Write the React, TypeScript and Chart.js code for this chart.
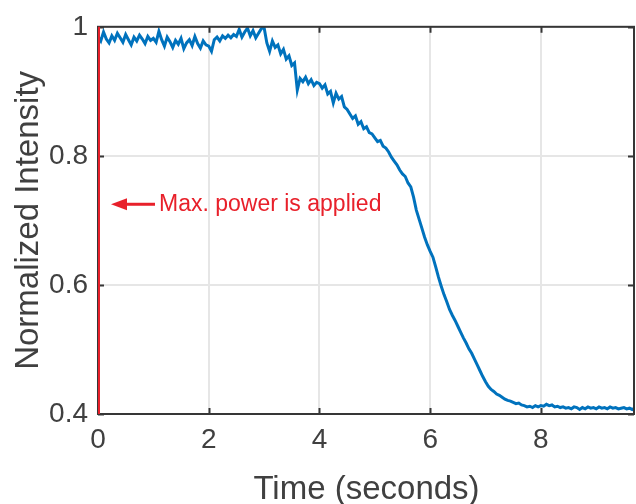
import React, { useEffect, useRef } from "react";
import { Chart, registerables } from "chart.js";

Chart.register(...registerables);

// Sampling step of the recorded trace (seconds)
const SAMPLE_STEP = 0.05;

// Normalized intensity readings, one per sample (0 s .. 9.7 s)
const INTENSITY_0_1 = [0.985, 0.978, 0.992, 0.981, 0.975, 0.986, 0.979, 0.99, 0.983, 0.976, 0.988, 0.98, 0.972, 0.984, 0.978, 0.987, 0.981, 0.974, 0.985, 0.979];
const INTENSITY_1_2 = [0.982, 0.976, 0.993, 0.98, 0.97, 0.984, 0.977, 0.968, 0.979, 0.973, 0.982, 0.966, 0.975, 0.98, 0.971, 0.985, 0.974, 0.967, 0.978, 0.972];
const INTENSITY_2_3 = [0.97, 0.962, 0.98, 0.984, 0.978, 0.986, 0.982, 0.987, 0.983, 0.988, 0.985, 0.996, 0.984, 0.992, 0.998, 0.986, 0.994, 0.983, 0.99, 0.997];
const INTENSITY_3_4 = [0.999, 0.975, 0.962, 0.978, 0.968, 0.972, 0.958, 0.965, 0.95, 0.955, 0.94, 0.944, 0.902, 0.92, 0.915, 0.922, 0.912, 0.918, 0.909, 0.914];
const INTENSITY_4_5 = [0.912, 0.905, 0.91, 0.896, 0.9, 0.882, 0.897, 0.888, 0.892, 0.876, 0.872, 0.865, 0.858, 0.862, 0.849, 0.853, 0.842, 0.845, 0.836, 0.834];
const INTENSITY_5_6 = [0.828, 0.822, 0.824, 0.815, 0.812, 0.806, 0.798, 0.792, 0.786, 0.778, 0.772, 0.768, 0.758, 0.752, 0.736, 0.716, 0.702, 0.688, 0.674, 0.662];
const INTENSITY_6_7 = [0.652, 0.643, 0.628, 0.612, 0.598, 0.585, 0.574, 0.562, 0.553, 0.545, 0.536, 0.527, 0.518, 0.51, 0.501, 0.494, 0.485, 0.476, 0.467, 0.458];
const INTENSITY_7_8 = [0.45, 0.443, 0.438, 0.435, 0.431, 0.429, 0.426, 0.423, 0.421, 0.42, 0.418, 0.416, 0.417, 0.414, 0.413, 0.411, 0.412, 0.41, 0.413, 0.411];
const INTENSITY_8_9 = [0.413, 0.412, 0.415, 0.413, 0.414, 0.411, 0.412, 0.41, 0.411, 0.409, 0.41, 0.408, 0.411, 0.41, 0.407, 0.41, 0.408, 0.411, 0.409, 0.41];
const INTENSITY_9_END = [0.408, 0.411, 0.409, 0.41, 0.408, 0.411, 0.409, 0.41, 0.408, 0.409, 0.41, 0.408, 0.409, 0.407, 0.409];

const INTENSITY = [
  ...INTENSITY_0_1, ...INTENSITY_1_2, ...INTENSITY_2_3, ...INTENSITY_3_4, ...INTENSITY_4_5,
  ...INTENSITY_5_6, ...INTENSITY_6_7, ...INTENSITY_7_8, ...INTENSITY_8_9, ...INTENSITY_9_END,
];
const TIME = INTENSITY.map((_, i) => +(i * SAMPLE_STEP).toFixed(2));

// Axes
const X_MIN = 0;
const X_MAX = 9.7;
const X_STEP = 2;
const Y_MIN = 0.4;
const Y_MAX = 1;
const Y_STEP = 0.2;

// Texts
const X_TITLE = "Time (seconds)";
const Y_TITLE = "Normalized Intensity";
const EVENT_TIME = 0;
const EVENT_LABEL = "Max. power is applied";
const EVENT_LABEL_Y = 0.725;

const TEXT = "#404040";
const AXIS = "#363636";
const GRID = "#e6e6e6";
const RED = "#e8202a";
const BLUE = "#0072bd";
const FONT = "'Liberation Sans', Arial, Helvetica, sans-serif";

const overlay = {
  id: "overlay",
  afterDraw(chart: any) {
    const { ctx, chartArea: a, scales } = chart;
    const xs = scales.x;
    const ys = scales.y;
    ctx.save();
    // box
    ctx.strokeStyle = AXIS;
    ctx.lineWidth = 2;
    ctx.strokeRect(a.left, a.top, a.right - a.left - 1, a.bottom - a.top);
    // inward ticks
    const tl = 6;
    ctx.beginPath();
    xs.ticks.forEach((t: any) => {
      const px = Math.round(xs.getPixelForValue(t.value)) + 0.5;
      ctx.moveTo(px, a.bottom);
      ctx.lineTo(px, a.bottom - tl);
      ctx.moveTo(px, a.top);
      ctx.lineTo(px, a.top + tl);
    });
    ys.ticks.forEach((t: any) => {
      const py = Math.round(ys.getPixelForValue(t.value)) + 0.5;
      ctx.moveTo(a.left, py);
      ctx.lineTo(a.left + tl, py);
      ctx.moveTo(a.right - 1, py);
      ctx.lineTo(a.right - 1 - tl, py);
    });
    ctx.stroke();
    // event marker line
    const ex = xs.getPixelForValue(EVENT_TIME) + 1;
    ctx.strokeStyle = RED;
    ctx.lineWidth = 2;
    ctx.beginPath();
    ctx.moveTo(ex, a.top);
    ctx.lineTo(ex, a.bottom);
    ctx.stroke();
    // arrow + label
    const ay = ys.getPixelForValue(EVENT_LABEL_Y);
    const tipX = ex + 12;
    ctx.fillStyle = RED;
    ctx.beginPath();
    ctx.moveTo(tipX + 14, ay);
    ctx.lineTo(ex + 56, ay);
    ctx.lineWidth = 3;
    ctx.stroke();
    ctx.beginPath();
    ctx.moveTo(tipX, ay);
    ctx.lineTo(tipX + 16, ay - 6);
    ctx.lineTo(tipX + 16, ay + 6);
    ctx.closePath();
    ctx.fill();
    ctx.font = `23px ${FONT}`;
    ctx.textAlign = "left";
    ctx.textBaseline = "middle";
    ctx.fillText(EVENT_LABEL, ex + 60, ay);
    ctx.restore();
  },
};

export default function App() {
  const ref = useRef<HTMLCanvasElement>(null);
  useEffect(() => {
    document.body.style.margin = "0";
    const chart = new Chart(ref.current as HTMLCanvasElement, {
      type: "line",
      data: {
        datasets: [
          {
            data: TIME.map((t, i) => ({ x: t, y: INTENSITY[i] })),
            borderColor: BLUE,
            borderWidth: 3,
            pointRadius: 0,
            tension: 0,
            fill: false,
          },
        ],
      },
      options: {
        responsive: false,
        animation: false,
        layout: { padding: { top: 20, right: 1, left: 0, bottom: 0 } },
        plugins: { legend: { display: false }, tooltip: { enabled: false } },
        scales: {
          x: {
            type: "linear",
            min: X_MIN,
            max: X_MAX,
            border: { display: false },
            grid: { color: GRID, lineWidth: 2, drawTicks: false },
            ticks: {
              stepSize: X_STEP,
              includeBounds: false,
              padding: 9,
              color: TEXT,
              font: { family: FONT, size: 28 },
              maxRotation: 0,
            },
            title: {
              display: true,
              text: X_TITLE,
              color: TEXT,
              font: { family: FONT, size: 33, lineHeight: 1 },
              padding: { top: 0, bottom: -2 },
            },
            afterFit: (s: any) => {
              s.height = 90;
            },
          },
          y: {
            type: "linear",
            min: Y_MIN,
            max: Y_MAX,
            border: { display: false },
            grid: { color: GRID, lineWidth: 2, drawTicks: false },
            ticks: {
              stepSize: Y_STEP,
              includeBounds: false,
              padding: 10,
              color: TEXT,
              font: { family: FONT, size: 28 },
              callback: (v: any) => String(parseFloat(Number(v).toFixed(1))),
            },
            title: {
              display: true,
              text: Y_TITLE,
              color: TEXT,
              font: { family: FONT, size: 33, lineHeight: 1 },
              padding: { top: 12, bottom: 0 },
            },
            afterFit: (s: any) => {
              s.width = 98;
            },
          },
        },
      },
      plugins: [overlay],
    });
    return () => chart.destroy();
  }, []);
  return (
    <div style={{ position: "absolute", left: 0, top: 0, width: 636, height: 504 }}>
      <canvas ref={ref} width={636} height={504} />
    </div>
  );
}
